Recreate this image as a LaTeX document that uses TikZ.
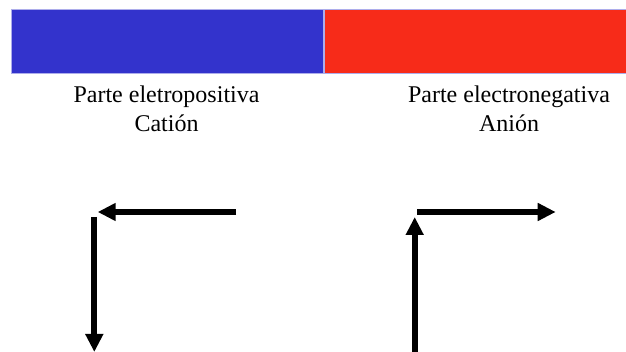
\documentclass[tikz,border=0pt]{standalone}
\usepackage{fontspec}
\setmainfont{Liberation Serif}
\usetikzlibrary{arrows.meta,positioning}
\definecolor{catblue}{HTML}{3333CC}
\definecolor{anred}{HTML}{F72B19}
\tikzset{
    %Define standard arrow tip
    >={Triangle[length=18pt,width=17pt]},
    %Define style for bars
    barra/.style={
           rectangle,
           draw = catblue!40!white, line width=0.6pt,
           minimum height = 63.5pt,
           inner sep=0pt},
    %Define style for labels
    rotulo/.style={
           align=center,
           anchor=base,
           font=\fontsize{24}{29}\selectfont},
    % Define arrow style
    seta/.style={
           ->,
           line width=6pt}
}
\begin{document}
\begin{tikzpicture}[x=1pt,y=-1pt]
\useasboundingbox (0,0) rectangle (626,352);
 %bars
\node[barra, fill=catblue, minimum width=312.5pt] (cat) at (167.25,41.25) {};
\node[barra, fill=anred, minimum width=302pt, right=0pt of cat] (an) {};
 %labels
\node[rotulo] (cattext) at (166.5,132) {Parte eletropositiva\\Catión};
\node[rotulo] (antext) at (509,132) {Parte electronegativa\\Anión};
 %arrows
\coordinate (c1) at (236,212);
\coordinate (c2) at (97.7,212);
\coordinate (c3) at (94.3,217);
\coordinate (c4) at (94.3,352);
\coordinate (a1) at (414.7,352);
\coordinate (a2) at (414.7,217);
\coordinate (a3) at (417,212);
\coordinate (a4) at (555.7,212);
\draw[seta] (c1) -- (c2);
\draw[seta] (c3) -- (c4);
\draw[seta] (a1) -- (a2);
\draw[seta] (a3) -- (a4);
\end{tikzpicture}
\end{document}
